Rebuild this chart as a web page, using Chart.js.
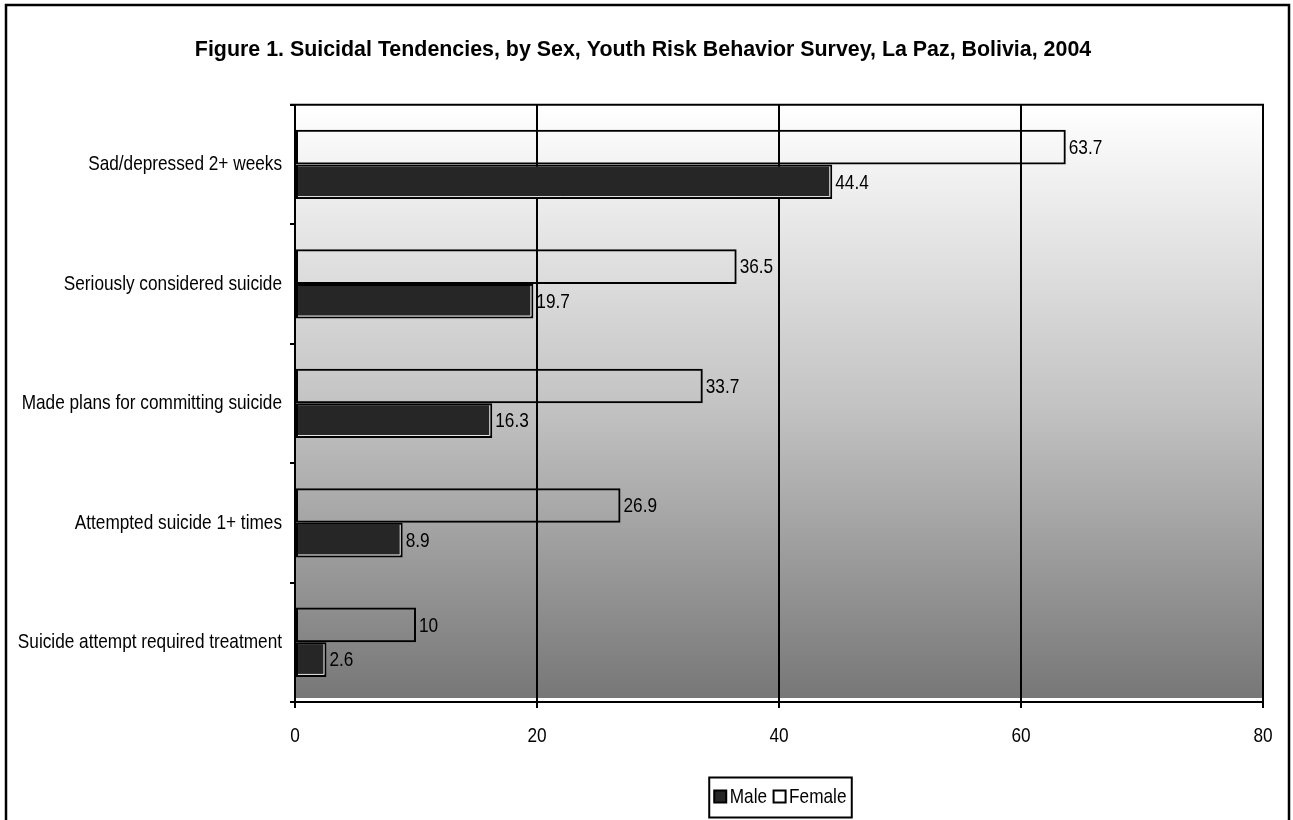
<!DOCTYPE html>
<html>
<head>
<meta charset="utf-8">
<script src="https://cdn.jsdelivr.net/npm/chart.js@4.4.1/dist/chart.umd.min.js"></script>
<style>
  html, body { margin: 0; padding: 0; background: #fff; }
  #wrap { width: 1293px; height: 820px; }
</style>
</head>
<body>
<div id="wrap"><canvas id="chart" width="1293" height="820"></canvas></div>
<script>
// Survey questions (one row per question)
const categories = [
  "Sad/depressed 2+ weeks",
  "Seriously considered suicide",
  "Made plans for committing suicide",
  "Attempted suicide 1+ times",
  "Suicide attempt required treatment"
];
// Percent of students, by sex
const femaleValues = [63.7, 36.5, 33.7, 26.9, 10];
const maleValues = [44.4, 19.7, 16.3, 8.9, 2.6];
const seriesNames = ["Female", "Male"];
// Value axis
const axisMin = 0;
const axisMax = 80;
const axisStep = 20;
const titleText = "Figure 1. Suicidal Tendencies, by Sex, Youth Risk Behavior Survey, La Paz, Bolivia, 2004";

const FONT = "'Liberation Sans', Arial, sans-serif";
const LABEL_SIZE = 21;
const NARROW = 0.82;          // horizontal squeeze for the condensed label face
const MALE_FILL = '#262626';

// Condensed text: draw with a horizontal squeeze around the anchor point
function narrowText(ctx, text, x, y, align) {
  ctx.save();
  ctx.translate(x, y);
  ctx.scale(NARROW, 1);
  ctx.font = LABEL_SIZE + 'px ' + FONT;
  ctx.fillStyle = '#000';
  ctx.textAlign = align;
  ctx.textBaseline = 'middle';
  ctx.fillText(text, 0, 0);
  ctx.restore();
}

// Page frame, gradient plot background, top border line
const backdrop = {
  id: 'backdrop',
  beforeDraw(chart) {
    const { ctx, chartArea: a } = chart;
    ctx.save();
    ctx.fillStyle = '#fff';
    ctx.fillRect(0, 0, chart.width, chart.height);
    ctx.strokeStyle = '#000';
    ctx.lineWidth = 2.5;
    ctx.strokeRect(6, 5, 1283, 840);
    const bottom = a.bottom - 4;
    const g = ctx.createLinearGradient(0, a.top, 0, bottom);
    g.addColorStop(0, '#ffffff');
    g.addColorStop(0.5, '#c4c4c4');
    g.addColorStop(1, '#777777');
    ctx.fillStyle = g;
    ctx.fillRect(a.left, a.top, a.right - a.left, bottom - a.top);
    ctx.restore();
  },
  afterDatasetsDraw(chart) {
    const { ctx, chartArea: a } = chart;
    ctx.save();
    ctx.strokeStyle = '#000';
    ctx.lineWidth = 2;
    ctx.beginPath();
    ctx.moveTo(a.left - 5, a.top);
    ctx.lineTo(a.right + 1, a.top);
    ctx.stroke();
    ctx.restore();
  }
};

// Light bevel on the male bars and value labels at the bar ends
const barExtras = {
  id: 'barExtras',
  afterDatasetsDraw(chart) {
    const { ctx } = chart;
    chart.data.datasets.forEach((ds, di) => {
      const meta = chart.getDatasetMeta(di);
      meta.data.forEach((bar, i) => {
        const h = bar.height;
        const top = bar.y - h / 2, bottom = bar.y + h / 2;
        if (ds.label === 'Male') {
          ctx.save();
          ctx.strokeStyle = '#e6e6e6';
          ctx.lineWidth = 1;
          ctx.beginPath();
          ctx.moveTo(bar.base + 2, bottom - 2.5);
          ctx.lineTo(bar.x - 2.5, bottom - 2.5);
          ctx.lineTo(bar.x - 2.5, top + 2);
          ctx.stroke();
          ctx.restore();
        }
        narrowText(ctx, String(ds.data[i]), bar.x + 3, bar.y + 1, 'left');
      });
    });
  }
};

// Axis labels in the condensed face, placed at the scales' tick positions
const axisLabels = {
  id: 'axisLabels',
  afterDraw(chart) {
    const { ctx, chartArea: a } = chart;
    const ys = chart.scales.y, xs = chart.scales.x;
    ys.ticks.forEach((t, i) => {
      narrowText(ctx, chart.data.labels[i], a.left - 13, ys.getPixelForTick(i), 'right');
    });
    xs.ticks.forEach((t, i) => {
      narrowText(ctx, String(t.value), xs.getPixelForTick(i), a.bottom + 34, 'center');
    });
  }
};

// Centre the legend under the plot, centre the title, box the legend and
// write its entries in the condensed face
const placement = {
  id: 'placement',
  afterLayout(chart) {
    const lg = chart.legend;
    if (lg) {
      lg.left = 300;
      lg.right = 1265;
      lg.width = lg.right - lg.left;
    }
    const tb = chart.titleBlock;
    if (tb) {
      tb.left = 0;
      tb.right = 1286;
      tb.width = 1286;
    }
  },
  afterDraw(chart) {
    const lg = chart.legend;
    const boxes = lg && lg.legendHitBoxes;
    if (!boxes || !boxes.length) return;
    const first = boxes[0], last = boxes[boxes.length - 1];
    const cy = first.top + first.height / 2;
    const { ctx } = chart;
    ctx.save();
    ctx.strokeStyle = '#000';
    ctx.lineWidth = 2;
    const l = first.left - 10, r = last.left + last.width + 6;
    ctx.strokeRect(l, cy - 19, r - l, 40);
    ctx.restore();
    const fs = lg.options.labels.font.size;
    boxes.forEach((hb, i) => {
      narrowText(ctx, lg.legendItems[i].text, hb.left + 2 + fs / 2, cy + 1, 'left');
    });
  }
};

new Chart(document.getElementById('chart'), {
  type: 'bar',
  data: {
    labels: categories,
    datasets: [
      {
        label: seriesNames[0],
        data: femaleValues,
        backgroundColor: 'rgba(255,255,255,0)',
        borderColor: '#000',
        borderWidth: 2,
        borderSkipped: false
      },
      {
        label: seriesNames[1],
        data: maleValues,
        backgroundColor: MALE_FILL,
        borderColor: '#000',
        borderWidth: 2,
        borderSkipped: false
      }
    ]
  },
  options: {
    indexAxis: 'y',
    responsive: false,
    animation: false,
    devicePixelRatio: 1,
    categoryPercentage: 0.58,
    barPercentage: 1,
    layout: { padding: { left: 0, right: 30, top: 0, bottom: 5 } },
    font: { family: FONT, size: 17 },
    color: '#000',
    scales: {
      x: {
        min: axisMin,
        max: axisMax,
        ticks: { stepSize: axisStep, color: 'rgba(0,0,0,0)', font: { family: FONT, size: 17 }, padding: 15 },
        grid: { color: '#000', lineWidth: 2, tickLength: 6, drawOnChartArea: true },
        border: { display: true, color: '#000', width: 2 },
        afterFit(scale) { scale.height = 74; }
      },
      y: {
        ticks: { color: 'rgba(0,0,0,0)', font: { family: FONT, size: 17 }, padding: 8 },
        grid: { offset: true, drawOnChartArea: false, color: '#000', lineWidth: 2, tickLength: 5 },
        border: { display: true, color: '#000', width: 2 },
        afterFit(scale) { scale.width = 295; }
      }
    },
    plugins: {
      title: {
        display: true,
        text: titleText,
        color: '#000',
        font: { family: FONT, size: 21.4, weight: 'bold' },
        padding: { top: 37, bottom: 42 }
      },
      legend: {
        position: 'bottom',
        reverse: true,
        labels: {
          color: 'rgba(0,0,0,0)',
          font: { family: FONT, size: 17 },
          usePointStyle: true,
          pointStyle: 'rect',
          boxWidth: 2,
          boxHeight: 12,
          padding: 12
        }
      },
      tooltip: { enabled: false }
    }
  },
  plugins: [backdrop, barExtras, axisLabels, placement]
});
</script>
</body>
</html>
